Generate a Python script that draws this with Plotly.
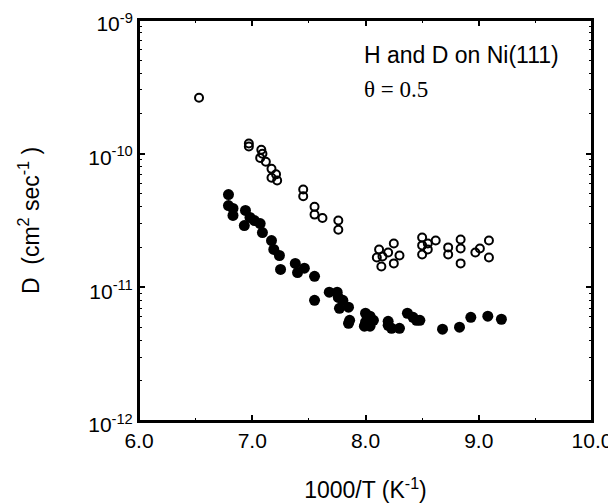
import plotly.graph_objects as go

# Open circles
open_x = [6.53, 6.97, 6.97, 7.08, 7.09, 7.07, 7.12, 7.17, 7.21, 7.17, 7.22,
          7.45, 7.45, 7.55, 7.55, 7.62, 7.76, 7.76,
          8.12, 8.10, 8.15, 8.14, 8.20, 8.25, 8.30, 8.25,
          8.50, 8.50, 8.50, 8.55, 8.55, 8.62,
          8.73, 8.73, 8.84, 8.84, 8.84, 8.97, 9.01, 9.09, 9.09]
open_y = [2.62e-10, 1.19e-10, 1.13e-10, 1.07e-10, 1.0e-10, 9.3e-11, 8.7e-11, 7.7e-11, 7.0e-11, 6.6e-11, 6.3e-11,
          5.4e-11, 4.8e-11, 4.0e-11, 3.5e-11, 3.3e-11, 3.16e-11, 2.7e-11,
          1.92e-11, 1.67e-11, 1.70e-11, 1.43e-11, 1.82e-11, 2.13e-11, 1.73e-11, 1.51e-11,
          2.36e-11, 2.06e-11, 1.76e-11, 2.13e-11, 1.92e-11, 2.24e-11,
          1.99e-11, 1.76e-11, 2.28e-11, 1.95e-11, 1.51e-11, 1.82e-11, 1.95e-11, 2.24e-11, 1.67e-11]

# Filled circles
fill_x = [6.79, 6.79, 6.83, 6.83, 6.94, 6.98, 6.93, 7.02, 7.07, 7.09, 7.17, 7.19, 7.24, 7.25,
          7.38, 7.40, 7.46, 7.55, 7.55, 7.68, 7.75, 7.76, 7.80, 7.77, 7.85, 7.86, 7.85,
          8.00, 8.04, 8.07, 8.00, 8.04, 7.99, 8.20, 8.23, 8.30, 8.20,
          8.37, 8.42, 8.48, 8.45, 8.68, 8.83, 8.93, 9.08, 9.20]
fill_y = [4.94e-11, 4.09e-11, 3.89e-11, 3.45e-11, 3.76e-11, 3.33e-11, 2.90e-11, 3.16e-11, 3.0e-11, 2.57e-11,
          2.24e-11, 1.92e-11, 1.73e-11, 1.36e-11,
          1.51e-11, 1.29e-11, 1.39e-11, 1.21e-11, 8.0e-12, 9.2e-12, 9.2e-12, 8.4e-12, 8.0e-12, 6.97e-12,
          7.1e-12, 5.67e-12, 5.38e-12,
          6.4e-12, 6.08e-12, 5.67e-12, 5.48e-12, 5.12e-12, 5.12e-12, 5.57e-12, 4.94e-12, 4.94e-12, 5.2e-12,
          6.4e-12, 5.97e-12, 5.67e-12, 5.67e-12, 4.86e-12, 5.03e-12, 5.97e-12, 6.08e-12, 5.77e-12]

x_ticks = [6, 7, 8, 9, 10]
x_tick_labels = ["6.0", "7.0", "8.0", "9.0", "10.0"]
y_ticks = [1e-12, 1e-11, 1e-10, 1e-9]
y_tick_labels = ["10<sup>-12</sup>", "10<sup>-11</sup>", "10<sup>-10</sup>", "10<sup>-9</sup>"]

x_minor = [6.5, 7.5, 8.5, 9.5]
y_minor = [m * 10.0 ** e for e in (-12, -11, -10) for m in range(2, 10)]

fig = go.Figure()
fig.add_trace(go.Scatter(x=open_x, y=open_y, mode="markers",
                         marker=dict(symbol="circle-open", size=8, color="black",
                                     line=dict(width=2, color="black"))))
fig.add_trace(go.Scatter(x=fill_x, y=fill_y, mode="markers",
                         marker=dict(symbol="circle", size=11, color="black")))

font = dict(family="Liberation Sans, Arial, sans-serif", size=21, color="black")

# page body has an 8px margin, so figure is 8px smaller than the window
W, H = 608, 496
ML, MR, MT, MB = 131, 24, 12, 83

fig.update_layout(
    width=W, height=H,
    margin=dict(l=ML, r=MR, t=MT, b=MB),
    paper_bgcolor="white", plot_bgcolor="white",
    showlegend=False,
    font=font,
    xaxis=dict(range=[6, 10], tickvals=x_ticks, ticktext=x_tick_labels, automargin=False,
               ticklabeloverflow="allow",
               ticks="inside", ticklen=6, tickwidth=1.5, tickcolor="black",
               showline=True, linecolor="black", linewidth=2, mirror="ticks",
               showgrid=False, zeroline=False, tickfont=dict(size=21),
               minor=dict(tickvals=x_minor, ticks="inside", ticklen=3, tickwidth=1.2, tickcolor="black"),
               title=dict(text="1000/T (K<sup>-1</sup>)", standoff=31, font=dict(size=23))),
    yaxis=dict(type="log", range=[-12, -9], tickvals=y_ticks, ticktext=y_tick_labels, automargin=False,
               ticklabeloverflow="allow", ticklabelshift=4,
               ticks="inside", ticklen=6, tickwidth=1.5, tickcolor="black",
               showline=True, linecolor="black", linewidth=2, mirror="ticks",
               showgrid=False, zeroline=False, tickfont=dict(size=21),
               minor=dict(tickvals=y_minor, ticks="inside", ticklen=3, tickwidth=1.2, tickcolor="black"),
               title=dict(text="D  (cm<sup>2</sup> sec<sup>-1</sup> )", standoff=42, font=dict(size=23))),
    shapes=[dict(type="rect", xref="paper", yref="paper", x0=0, x1=1, y0=0, y1=1,
                 line=dict(color="black", width=2), fillcolor="rgba(0,0,0,0)", layer="above")],
    annotations=[
        dict(text="H and D on Ni(111)", x=354, y=47, xref="paper", yref="paper",
             showarrow=False, xanchor="left", yanchor="middle",
             font=dict(family="Liberation Sans, Arial, sans-serif", size=23, color="black")),
        dict(text="θ = 0.5", x=354, y=81, xref="paper", yref="paper",
             showarrow=False, xanchor="left", yanchor="middle",
             font=dict(family="Liberation Serif, Times New Roman, serif", size=23, color="black")),
    ],
)

# convert annotation pixel positions (figure coords) to paper coords
pw = W - ML - MR
ph = H - MT - MB
for a in fig.layout.annotations:
    a.x = (a.x - ML) / pw
    a.y = (H - MB - a.y) / ph

fig.write_html("out.html")
